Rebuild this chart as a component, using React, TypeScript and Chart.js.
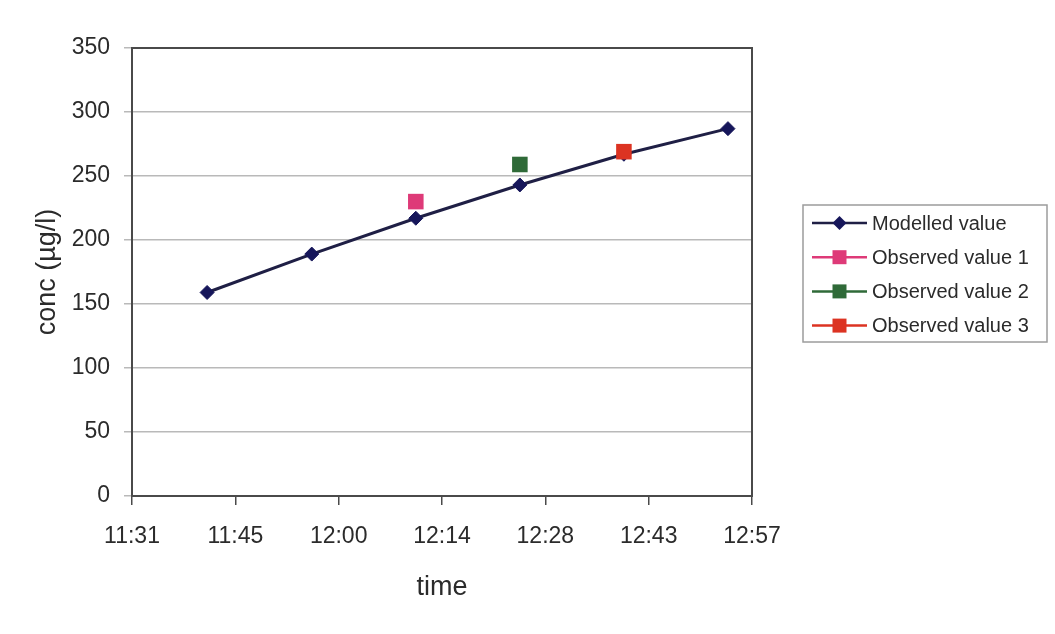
import React, { useEffect, useRef } from "react";
import { Chart, registerables } from "chart.js";

Chart.register(...registerables);

// ---- data ----
const xTickLabels = ["11:31", "11:45", "12:00", "12:14", "12:28", "12:43", "12:57"];
const xMinDay = 0.48;
const xMaxDay = 0.54;
const xStepDay = 0.01;

const yMin = 0;
const yMax = 350;
const yStep = 50;

const seriesNames = ["Modelled value", "Observed value 1", "Observed value 2", "Observed value 3"];

const modelledTimes = ["11:41:40", "11:56:15", "12:10:45", "12:25:15", "12:39:45", "12:54:15"];
const modelledValues = [159, 189, 217, 243, 267, 287];

const observed1Times = ["12:10:45"];
const observed1Values = [230];

const observed2Times = ["12:25:15"];
const observed2Values = [259];

const observed3Times = ["12:39:45"];
const observed3Values = [269];

// ---- styles ----
const COLORS = {
  modelledLine: "#1f1f45",
  modelledPoint: "#16165a",
  obs1: "#de3a78",
  obs2: "#2f6a38",
  obs3: "#dc3322",
  grid: "#b9b9b9",
  frame: "#4a4a4a",
  text: "#2b2b2b",
  legendBorder: "#9c9c9c",
};

const SANS = "'Liberation Sans', Arial, sans-serif";

function toDay(t: string): number {
  const [h, m, s] = t.split(":").map(Number);
  return (h * 3600 + m * 60 + (s || 0)) / 86400;
}

function pts(times: string[], values: number[]) {
  return times.map((t, i) => ({ x: toDay(t), y: values[i] }));
}

const frameBorder = {
  id: "frameBorder",
  beforeDatasetsDraw(chart: any) {
    const { ctx, chartArea } = chart;
    ctx.save();
    ctx.strokeStyle = COLORS.frame;
    ctx.lineWidth = 2;
    ctx.strokeRect(chartArea.left, chartArea.top, chartArea.right - chartArea.left, chartArea.bottom - chartArea.top);
    ctx.restore();
  },
};

const boxedLegend = {
  id: "boxedLegend",
  afterDraw(chart: any) {
    const { ctx, chartArea } = chart;
    const left = chartArea.right + 51;
    const top = chartArea.top + 157;
    const w = 244;
    const h = 137;
    ctx.save();
    ctx.fillStyle = "#ffffff";
    ctx.fillRect(left, top, w, h);
    ctx.strokeStyle = COLORS.legendBorder;
    ctx.lineWidth = 1.5;
    ctx.strokeRect(left, top, w, h);
    chart.data.datasets.forEach((ds: any, i: number) => {
      const cy = top + 18 + i * 34.2;
      const x0 = left + 9;
      const x1 = left + 64;
      const mx = (x0 + x1) / 2;
      ctx.strokeStyle = ds.legendLineColor;
      ctx.lineWidth = 2.5;
      ctx.beginPath();
      ctx.moveTo(x0, cy);
      ctx.lineTo(x1, cy);
      ctx.stroke();
      ctx.fillStyle = ds.pointBackgroundColor;
      ctx.beginPath();
      if (ds.pointStyle === "rectRot") {
        const r = 7;
        ctx.moveTo(mx, cy - r);
        ctx.lineTo(mx + r, cy);
        ctx.lineTo(mx, cy + r);
        ctx.lineTo(mx - r, cy);
        ctx.closePath();
      } else {
        ctx.rect(mx - 7, cy - 7, 14, 14);
      }
      ctx.fill();
      ctx.fillStyle = COLORS.text;
      ctx.font = `20px ${SANS}`;
      ctx.textAlign = "left";
      ctx.textBaseline = "middle";
      ctx.fillText(ds.label, x1 + 5, cy + 1);
    });
    ctx.restore();
  },
};

export default function App() {
  const canvasRef = useRef<HTMLCanvasElement | null>(null);

  useEffect(() => {
    document.body.style.margin = "0";
    document.body.style.background = "#ffffff";
    const canvas = canvasRef.current;
    if (!canvas) return;

    const chart = new Chart(canvas, {
      type: "scatter",
      data: {
        datasets: [
          {
            label: seriesNames[0],
            data: pts(modelledTimes, modelledValues),
            showLine: true,
            borderColor: COLORS.modelledLine,
            borderWidth: 3,
            pointStyle: "rectRot",
            pointRadius: 7,
            pointHoverRadius: 7,
            pointBackgroundColor: COLORS.modelledPoint,
            pointBorderColor: COLORS.modelledPoint,
            pointBorderWidth: 1,
            legendLineColor: COLORS.modelledLine,
            order: 1,
          } as any,
          {
            label: seriesNames[1],
            data: pts(observed1Times, observed1Values),
            showLine: false,
            pointStyle: "rect",
            pointRadius: 11,
            pointHoverRadius: 11,
            pointBackgroundColor: COLORS.obs1,
            pointBorderColor: COLORS.obs1,
            pointBorderWidth: 0,
            legendLineColor: COLORS.obs1,
            order: 2,
          } as any,
          {
            label: seriesNames[2],
            data: pts(observed2Times, observed2Values),
            showLine: false,
            pointStyle: "rect",
            pointRadius: 11,
            pointHoverRadius: 11,
            pointBackgroundColor: COLORS.obs2,
            pointBorderColor: COLORS.obs2,
            pointBorderWidth: 0,
            legendLineColor: COLORS.obs2,
            order: 2,
          } as any,
          {
            label: seriesNames[3],
            data: pts(observed3Times, observed3Values),
            showLine: false,
            pointStyle: "rect",
            pointRadius: 11,
            pointHoverRadius: 11,
            pointBackgroundColor: COLORS.obs3,
            pointBorderColor: COLORS.obs3,
            pointBorderWidth: 0,
            legendLineColor: COLORS.obs3,
            order: 0,
          } as any,
        ],
      },
      options: {
        animation: false,
        responsive: false,
        maintainAspectRatio: false,
        layout: { padding: { top: 48, right: 303, bottom: 0, left: 0 } },
        plugins: {
          legend: { display: false },
          tooltip: { enabled: false },
          title: { display: false },
        },
        scales: {
          x: {
            type: "linear",
            min: xMinDay,
            max: xMaxDay,
            afterFit: (scale: any) => {
              scale.height = 138;
            },
            afterBuildTicks: (scale: any) => {
              scale.ticks = xTickLabels.map((_, i) => ({ value: xMinDay + i * xStepDay }));
            },
            ticks: {
              autoSkip: false,
              maxRotation: 0,
              padding: 18,
              color: COLORS.text,
              font: { family: SANS, size: 23 },
              callback: (_v: any, i: number) => xTickLabels[i],
            },
            grid: {
              drawOnChartArea: false,
              drawTicks: true,
              tickLength: 9,
              color: COLORS.frame,
              lineWidth: 1.5,
            },
            border: { display: false },
            title: {
              display: true,
              text: "time",
              color: COLORS.text,
              font: { family: SANS, size: 27 },
              padding: { top: 0, bottom: 30 },
            },
          },
          y: {
            type: "linear",
            min: yMin,
            max: yMax,
            afterFit: (scale: any) => {
              scale.width = 132;
            },
            ticks: {
              stepSize: yStep,
              padding: 14,
              color: COLORS.text,
              font: { family: SANS, size: 23 },
            },
            grid: {
              drawTicks: true,
              tickLength: 8,
              color: COLORS.grid,
              lineWidth: 1.5,
            },
            border: { display: false },
            title: {
              display: true,
              text: "conc (µg/l)",
              color: COLORS.text,
              font: { family: SANS, size: 27 },
              padding: { top: 31, bottom: 0 },
            },
          },
        },
      },
      plugins: [frameBorder, boxedLegend],
    });

    return () => {
      chart.destroy();
    };
  }, []);

  return (
    <div style={{ width: 1055, height: 634, background: "#ffffff" }}>
      <canvas ref={canvasRef} width={1055} height={634} style={{ display: "block" }} />
    </div>
  );
}
